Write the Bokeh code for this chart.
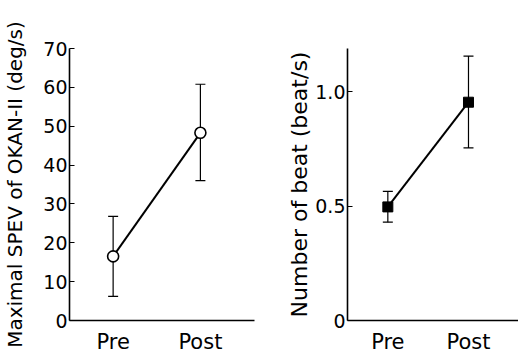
from bokeh.plotting import figure
from bokeh.layouts import row
from bokeh.models import FixedTicker, ColumnDataSource, Whisker
from bokeh.embed import file_html
from bokeh.resources import INLINE

phases = ["Pre", "Post"]
xpos = [1, 2]

spev_mean = [16.5, 48.3]
spev_upper = [26.8, 60.8]
spev_lower = [6.2, 36.0]

beat_mean = [0.497, 0.955]
beat_upper = [0.565, 1.157]
beat_lower = [0.43, 0.755]

spev_ticks = [0, 10, 20, 30, 40, 50, 60, 70]
beat_ticks = [0, 0.5, 1.0]
beat_tick_labels = {0: "0", 0.5: "0.5", 1.0: "1.0"}

FONT = "DejaVu Sans"


def style(p, yticks, ylabel, title_size):
    p.outline_line_color = None
    p.grid.visible = False
    p.background_fill_color = "white"
    p.border_fill_color = "white"
    for ax in (p.xaxis[0], p.yaxis[0]):
        ax.axis_line_width = 1.6
        ax.axis_line_color = "black"
        ax.major_label_text_font = FONT
        ax.major_label_text_color = "black"
        ax.minor_tick_line_color = None
    p.xaxis.major_label_text_font_size = "21px"
    p.yaxis.major_label_text_font_size = "19px"
    p.xaxis.ticker = FixedTicker(ticks=xpos)
    p.xaxis.major_label_overrides = {x: lab for x, lab in zip(xpos, phases)}
    p.xaxis.major_tick_line_color = None
    p.xaxis.major_label_standoff = 3
    p.yaxis.ticker = FixedTicker(ticks=yticks)
    p.yaxis.major_tick_in = 5
    p.yaxis.major_tick_out = 0
    p.yaxis.major_tick_line_width = 1.2
    p.yaxis.major_label_standoff = 2
    p.yaxis.axis_label = ylabel
    p.yaxis.axis_label_text_font = FONT
    p.yaxis.axis_label_text_font_style = "normal"
    p.yaxis.axis_label_text_font_size = title_size
    p.yaxis.axis_label_text_color = "black"


def add_whisker(p, src):
    w = Whisker(source=src, base="x", upper="up", lower="lo",
                line_color="black", line_width=1.2)
    w.upper_head.size = 10
    w.lower_head.size = 10
    w.upper_head.line_width = 1.2
    w.lower_head.line_width = 1.2
    p.add_layout(w)


# Left panel
p1 = figure(width=260, height=356, x_range=(0.5, 2.62), y_range=(0, 70),
            output_backend="svg", toolbar_location=None,
            min_border_left=68, min_border_right=6, min_border_top=48, min_border_bottom=35)
style(p1, spev_ticks, "Maximal SPEV of OKAN-II (deg/s)", "20px")
p1.yaxis.axis_label_standoff = 13
s1 = ColumnDataSource(dict(x=xpos, m=spev_mean, up=spev_upper, lo=spev_lower))
p1.line("x", "m", source=s1, line_color="black", line_width=2)
add_whisker(p1, s1)
p1.scatter("x", "m", source=s1, marker="circle", size=11, fill_color="white",
           line_color="black", line_width=1.6)

# Right panel
p2 = figure(width=258, height=356, x_range=(0.5, 2.62), y_range=(0, 1.19),
            output_backend="svg", toolbar_location=None,
            min_border_left=87, min_border_right=0, min_border_top=48, min_border_bottom=35)
style(p2, beat_ticks, "Number of beat (beat/s)", "22px")
p2.yaxis.major_label_overrides = beat_tick_labels
p2.yaxis.axis_label_standoff = 0
s2 = ColumnDataSource(dict(x=xpos, m=beat_mean, up=beat_upper, lo=beat_lower))
p2.line("x", "m", source=s2, line_color="black", line_width=2)
add_whisker(p2, s2)
p2.scatter("x", "m", source=s2, marker="square", size=10, fill_color="black",
           line_color="black")

layout = row(p1, p2)
open("out.html", "w").write(file_html(layout, INLINE))
